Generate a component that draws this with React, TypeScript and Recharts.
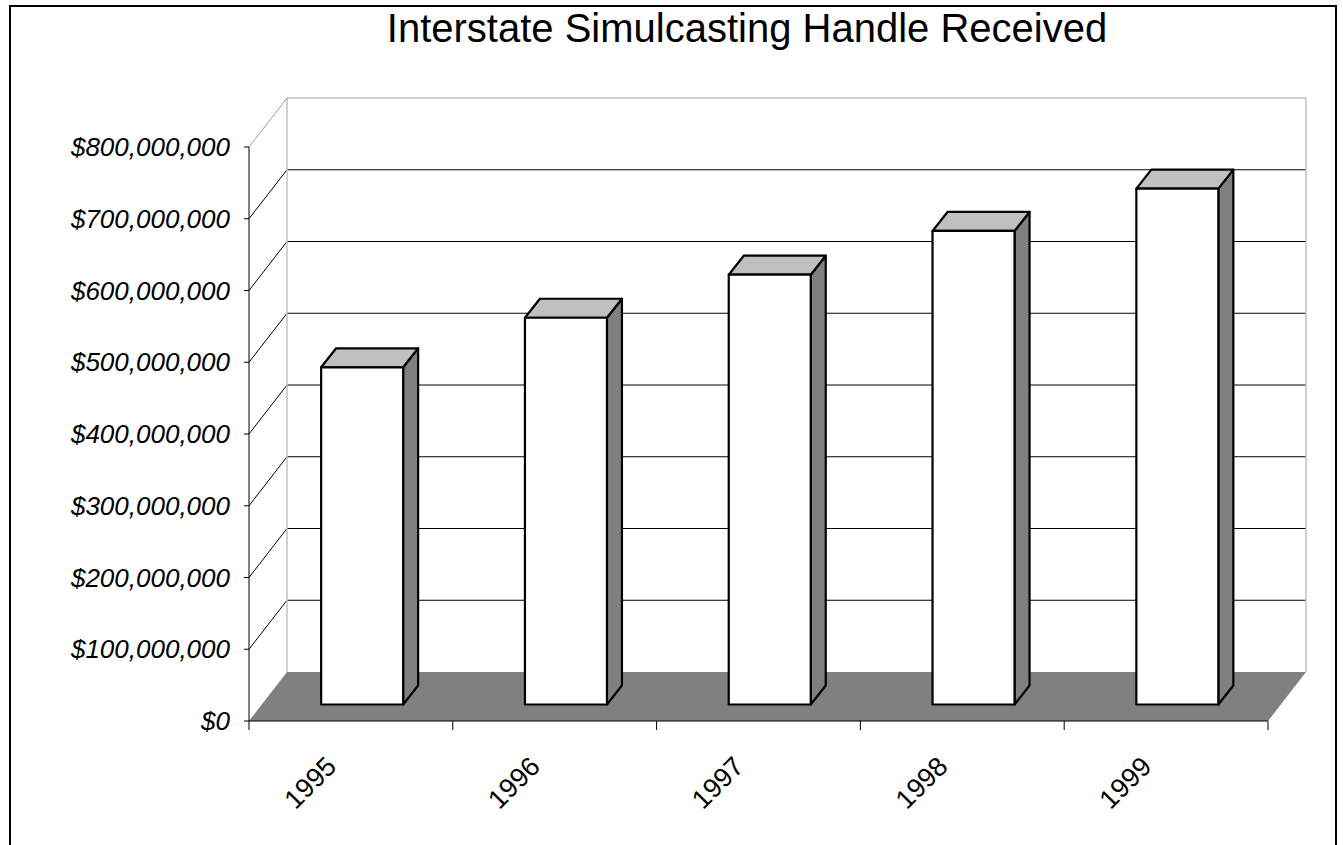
import { Bar, BarChart, CartesianGrid, XAxis, YAxis } from "recharts";

const years = ["1995", "1996", "1997", "1998", "1999"];
const handleReceived = [470000000, 539000000, 599000000, 660000000, 719000000];
const valueTicks = [
  0, 100000000, 200000000, 300000000, 400000000, 500000000, 600000000,
  700000000, 800000000,
];

const data = years.map((year, i) => ({ year, handle: handleReceived[i] }));

const FONT = "'Liberation Sans', Arial, sans-serif";

// depth of the walls / floor
const WALL_DX = 38;
const WALL_DY = 49;
// where the bars sit inside that depth, and how deep they are
const BAR_SHIFT_X = 11;
const BAR_SHIFT_Y = 16.5;
const BAR_DX = 15;
const BAR_DY = 19;

const money = (v: number) => "$" + v.toLocaleString("en-US");

// draws the back wall line, the side wall diagonal and the floor
function WallLine(props: any) {
  const { x1, y1, x2, x, y, width, height, index } = props;
  const isTop = Math.abs(y1 - y) < 1;
  const isBottom = Math.abs(y1 - (y + height)) < 1;

  if (isBottom) {
    const pts = `${x1},${y1} ${x2},${y1} ${x2 + WALL_DX},${y1 - WALL_DY} ${x1 + WALL_DX},${y1 - WALL_DY}`;
    return (
      <g key={`wall-${index}`}>
        <polygon points={pts} fill="#808080" stroke="none" />
      </g>
    );
  }

  const color = isTop ? "#a0a0a0" : "#000";
  return (
    <g key={`wall-${index}`}>
      {isTop && (
        <>
          <line
            x1={x + WALL_DX}
            y1={y - WALL_DY}
            x2={x + WALL_DX}
            y2={y + height - WALL_DY}
            stroke="#c0c0c0"
            strokeWidth={1.5}
          />
          <line
            x1={x + width + WALL_DX}
            y1={y - WALL_DY}
            x2={x + width + WALL_DX}
            y2={y + height - WALL_DY}
            stroke="#c0c0c0"
            strokeWidth={1.5}
          />
        </>
      )}
      <line x1={x1} y1={y1} x2={x1 + WALL_DX} y2={y1 - WALL_DY} stroke={color} strokeWidth={1} />
      <line
        x1={x1 + WALL_DX}
        y1={y1 - WALL_DY}
        x2={x2 + WALL_DX}
        y2={y1 - WALL_DY}
        stroke={color}
        strokeWidth={1}
      />
    </g>
  );
}

function Box3D(props: any) {
  const { x, y, width, height } = props;
  if (height == null || width == null) return null;
  const fx = x + BAR_SHIFT_X;
  const fy = y - BAR_SHIFT_Y;
  const r = fx + width;
  const b = fy + height;
  return (
    <g stroke="#000" strokeWidth={2.2} strokeLinejoin="round">
      <polygon
        points={`${r},${fy} ${r + BAR_DX},${fy - BAR_DY} ${r + BAR_DX},${b - BAR_DY} ${r},${b}`}
        fill="#808080"
      />
      <polygon
        points={`${fx},${fy} ${fx + BAR_DX},${fy - BAR_DY} ${r + BAR_DX},${fy - BAR_DY} ${r},${fy}`}
        fill="#c0c0c0"
      />
      <rect x={fx} y={fy} width={width} height={height} fill="#fff" />
    </g>
  );
}

// rotated year label, plus the tick marks that sit on the band edges
function YearTick(props: any) {
  const { x, y, payload, index, width } = props;
  const half = payload.offset || width / years.length / 2;
  const tx = x - 13;
  const ty = y + 47;
  return (
    <g>
      <line x1={x - half} y1={y} x2={x - half} y2={y + 9} stroke="#000" />
      {index === years.length - 1 && (
        <line x1={x + half} y1={y} x2={x + half} y2={y + 9} stroke="#000" />
      )}
      <text
        x={tx}
        y={ty}
        transform={`rotate(-45, ${tx}, ${ty})`}
        textAnchor="end"
        style={{ fontFamily: FONT, fontSize: 27 }}
        fill="#000"
      >
        {payload.value}
      </text>
    </g>
  );
}

export default function App() {
  return (
    <div
      style={{
        position: "absolute",
        left: 0,
        top: 0,
        width: 1343,
        height: 845,
        background: "#fff",
        overflow: "hidden",
      }}
    >
      <svg width={1343} height={845} style={{ position: "absolute", left: 0, top: 0 }}>
        <rect x={10} y={6} width={1326} height={880} fill="none" stroke="#000" strokeWidth={2} />
        <text x={747} y={42} textAnchor="middle" fontFamily={FONT} fontSize={40} fill="#000">
          Interstate Simulcasting Handle Received
        </text>
      </svg>
      <div style={{ position: "absolute", left: 0, top: 0 }}>
        <BarChart
          width={1343}
          height={845}
          data={data}
          margin={{ top: 147, right: 75, bottom: 123, left: 9 }}
          barCategoryGap="30%"
        >
          <CartesianGrid horizontal={WallLine} vertical={false} />
          <XAxis
            dataKey="year"
            height={1}
            tickLine={false}
            axisLine={{ stroke: "#000" }}
            tickSize={0}
            tickMargin={0}
            interval={0}
            tick={<YearTick />}
          />
          <YAxis
            width={240}
            domain={[0, 800000000]}
            ticks={valueTicks}
            interval={0}
            tickFormatter={money}
            tickSize={5}
            tickMargin={14}
            stroke="#000"
            tick={{ fill: "#000", fontSize: 26, fontStyle: "italic", fontFamily: FONT }}
          />
          <Bar dataKey="handle" shape={Box3D} isAnimationActive={false} />
        </BarChart>
      </div>
    </div>
  );
}
